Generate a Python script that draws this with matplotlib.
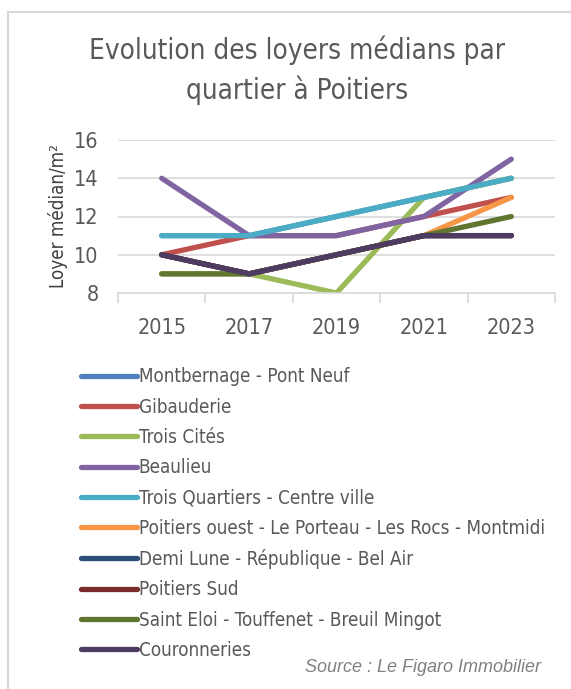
import matplotlib.pyplot as plt
from matplotlib.patches import Rectangle

years = ['2015', '2017', '2019', '2021', '2023']

quartiers = [
    'Montbernage - Pont Neuf',
    'Gibauderie',
    'Trois Cités',
    'Beaulieu',
    'Trois Quartiers - Centre ville',
    'Poitiers ouest - Le Porteau - Les Rocs - Montmidi',
    'Demi Lune - République - Bel Air',
    'Poitiers Sud',
    'Saint Eloi - Touffenet - Breuil Mingot',
    'Couronneries',
]

montbernage = [11, 11, 12, 13, 14]
gibauderie = [10, 11, 11, 12, 13]
trois_cites = [9, 9, 8, 13, 14]
beaulieu = [14, 11, 11, 12, 15]
trois_quartiers = [11, 11, 12, 13, 14]
poitiers_ouest = [10, 9, 10, 11, 13]
demi_lune = [10, 9, 10, 11, 11]
poitiers_sud = [10, 9, 10, 11, 11]
saint_eloi = [9, 9, 10, 11, 12]
couronneries = [10, 9, 10, 11, 11]

series = [montbernage, gibauderie, trois_cites, beaulieu, trois_quartiers,
          poitiers_ouest, demi_lune, poitiers_sud, saint_eloi, couronneries]

colors = ['#4f81bd', '#c0504d', '#9bbb59', '#8064a2', '#4bacc6',
          '#f79646', '#2c4d75', '#772c2a', '#5f7530', '#4d3b62']

font = 'DejaVu Sans'
cond = 'condensed'
grey = '#595959'

fig = plt.figure(figsize=(5.71, 6.89), dpi=100)

# cadre gris
fig.patches.append(Rectangle((8 / 571, -0.05), 1.1, 1 - 12 / 689 + 0.05,
                             transform=fig.transFigure, fill=False,
                             edgecolor='#d9d9d9', linewidth=1.5))

fig.text(0.52, 1 - 70 / 689, 'Evolution des loyers médians par\nquartier à Poitiers',
         ha='center', va='center', fontsize=20, color=grey, family=font,
         fontstretch=cond, linespacing=1.45)

ax = fig.add_axes([118 / 571, 1 - 293 / 689, 437 / 571, 153 / 689])
x = list(range(len(years)))
lines = []
for vals, name, c in zip(series, quartiers, colors):
    ln, = ax.plot(x, vals, color=c, lw=3.8, label=name,
                  solid_capstyle='round', solid_joinstyle='round')
    lines.append(ln)

ax.set_ylim(8, 16)
ax.set_yticks([8, 10, 12, 14, 16])
ax.set_xlim(-0.5, 4.5)
ax.set_xticks(x)
ax.set_xticklabels(years)
ax.set_xticks([i - 0.5 for i in range(6)], minor=True)
ax.tick_params(axis='x', which='major', length=0, pad=18)
ax.tick_params(axis='x', which='minor', length=7, color='#d9d9d9', width=1.2)
ax.tick_params(axis='y', length=0, pad=14)
for lab in ax.get_xticklabels() + ax.get_yticklabels():
    lab.set_family(font)
    lab.set_fontstretch(cond)
    lab.set_fontsize(15.5)
    lab.set_color(grey)
ax.grid(axis='y', color='#d9d9d9', lw=1.2)
ax.set_axisbelow(True)
for s in ['top', 'right', 'left']:
    ax.spines[s].set_visible(False)
ax.spines['bottom'].set_color('#d9d9d9')
ax.spines['bottom'].set_linewidth(1.2)
ax.set_ylabel('Loyer médian/m²', family=font, fontstretch=cond, fontsize=13.5,
              color='#404040', labelpad=4)

leg = fig.legend(handles=lines, loc='upper left',
                 bbox_to_anchor=(73 / 571, 1 - 360 / 689), frameon=False,
                 prop={'family': font, 'stretch': cond, 'size': 13.5},
                 handlelength=3.0, handletextpad=0.1, labelspacing=0.6,
                 borderaxespad=0)
for t in leg.get_texts():
    t.set_color(grey)
for h in leg.get_lines():
    h.set_linewidth(3.8)

fig.text(541 / 571, 1 - 667 / 689, 'Source : Le Figaro Immobilier',
         ha='right', va='center', fontsize=13, style='italic',
         color='#808080', family=['Liberation Sans', 'DejaVu Sans'])

fig.savefig('out.png', dpi=100)
